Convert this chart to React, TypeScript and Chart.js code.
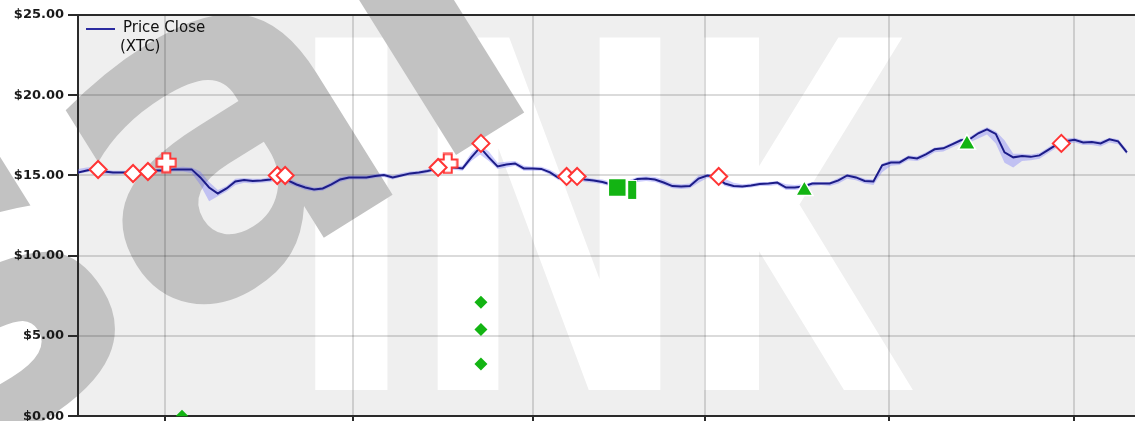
import React, { useEffect, useRef } from 'react';
import { Chart, registerables } from 'chart.js';

Chart.register(...registerables);

// ---- data ----
const closePrices = [
  15.19, 15.31, 15.44, 15.25, 15.19, 15.19, 15.19, 15.22, 15.25, 15.31,
  15.31, 15.38, 15.38, 15.38, 14.88, 14.25, 13.88, 14.19, 14.63, 14.72,
  14.66, 14.69, 14.75, 14.94, 14.69, 14.44, 14.25, 14.13, 14.19, 14.44,
  14.75, 14.88, 14.88, 14.88, 14.97, 15.03, 14.88, 15.0, 15.13, 15.19,
  15.28, 15.41, 15.5, 15.5, 15.44, 16.13, 16.75, 16.13, 15.56, 15.69,
  15.75, 15.44, 15.44, 15.41, 15.19, 14.84, 14.88, 14.88, 14.75, 14.69,
  14.59, 14.44, 14.4, 14.53, 14.78, 14.81, 14.75, 14.56, 14.34, 14.31,
  14.34, 14.81, 15.0, 14.94, 14.5, 14.34, 14.31, 14.38, 14.47, 14.5,
  14.56, 14.25, 14.25, 14.31, 14.5, 14.5, 14.5, 14.69, 15.0, 14.88,
  14.66, 14.63, 15.63, 15.81, 15.81, 16.13, 16.06, 16.31, 16.63, 16.69,
  16.94, 17.19, 17.25, 17.63, 17.88, 17.59, 16.44, 16.13, 16.22, 16.16,
  16.25, 16.59, 16.94, 17.13, 17.22, 17.06, 17.09, 17.0, 17.25, 17.13,
  16.44,
];
const bandHigh = [
  15.4, 15.5, 15.55, 15.4, 15.3, 15.3, 15.3, 15.35, 15.35, 15.4,
  15.45, 15.5, 15.55, 15.5, 15.25, 14.6, 14.1, 14.35, 14.8, 14.85,
  14.8, 14.8, 14.9, 15.05, 14.85, 14.6, 14.4, 14.25, 14.3, 14.6,
  14.9, 15.0, 15.0, 15.0, 15.1, 15.15, 15.0, 15.15, 15.25, 15.3,
  15.4, 15.55, 15.65, 15.6, 15.6, 16.4, 16.9, 16.5, 15.8, 15.85,
  15.9, 15.6, 15.55, 15.55, 15.35, 15.05, 15.0, 15.0, 14.9, 14.8,
  14.75, 14.6, 14.55, 14.7, 14.9, 14.95, 14.9, 14.75, 14.5, 14.45,
  14.5, 15.0, 15.1, 15.05, 14.8, 14.55, 14.45, 14.5, 14.6, 14.6,
  14.65, 14.45, 14.4, 14.45, 14.6, 14.6, 14.6, 14.85, 15.1, 15.0,
  14.8, 14.75, 15.75, 15.95, 15.95, 16.25, 16.2, 16.45, 16.75, 16.8,
  17.05, 17.3, 17.4, 17.75, 18.0, 17.75, 17.2, 16.35, 16.35, 16.3,
  16.4, 16.75, 17.1, 17.3, 17.35, 17.2, 17.2, 17.15, 17.35, 17.25,
  16.6,
];
const bandLow = [
  15.1, 15.2, 15.3, 15.1, 15.05, 15.1, 15.1, 15.1, 15.15, 15.2,
  15.2, 15.25, 15.25, 15.15, 14.4, 13.4, 13.7, 14.0, 14.4, 14.55,
  14.5, 14.55, 14.6, 14.75, 14.5, 14.3, 14.1, 14.0, 14.05, 14.3,
  14.6, 14.75, 14.75, 14.75, 14.85, 14.9, 14.75, 14.9, 15.0, 15.05,
  15.15, 15.3, 15.35, 15.35, 15.3, 15.9, 16.3, 15.9, 15.4, 15.5,
  15.6, 15.3, 15.3, 15.3, 15.05, 14.7, 14.75, 14.75, 14.6, 14.55,
  14.45, 14.3, 14.25, 14.4, 14.6, 14.65, 14.6, 14.4, 14.2, 14.15,
  14.2, 14.55, 14.85, 14.75, 14.35, 14.2, 14.2, 14.25, 14.35, 14.35,
  14.4, 14.1, 14.1, 14.15, 14.35, 14.4, 14.35, 14.5, 14.8, 14.7,
  14.5, 14.4, 15.2, 15.6, 15.65, 15.95, 15.9, 16.1, 16.45, 16.5,
  16.75, 17.0, 17.05, 17.3, 17.55, 17.0, 15.8, 15.5, 15.9, 15.95,
  16.05, 16.4, 16.75, 16.95, 17.05, 16.9, 16.9, 16.8, 17.05, 16.95,
  16.3,
];

// month boundaries (trading-day index) used for vertical grid lines
const monthStarts = [10, 31.5, 52, 71.75, 92.75, 114];
const yTickValues = [0, 5, 10, 15, 20, 25];

// signal markers (day index, price)
const sellDiamondDays = [2.3, 6.3, 8, 22.8, 23.7, 41.2, 46.1, 55.9, 57.1, 73.3, 112.5];
const sellDiamondPrices = [15.375, 15.125, 15.25, 15.0, 15.0, 15.5, 17.0, 14.94, 14.94, 14.94, 17.0];
const plusDays = [10.1, 42.3];
const plusPrices = [15.8, 15.75];
const squareDays = [61.7];
const squarePrices = [14.25];
const barDays = [63.4];
const barPrices = [14.1];
const triangleDays = [83.1, 101.7];
const trianglePrices = [14.06, 16.94];
const greenDiamondDays = [46.1, 46.1, 46.1, 11.9];
const greenDiamondPrices = [7.1, 5.4, 3.25, 0];

const RED = '#ff3535';
const GREEN = '#13b413';

function makePlusImage(): HTMLCanvasElement {
  const c = document.createElement('canvas');
  c.width = 22; c.height = 22;
  const g = c.getContext('2d')!;
  const cx = 11, cy = 11, e = 9.5, a = 4;
  g.beginPath();
  g.moveTo(cx - a, cy - e); g.lineTo(cx + a, cy - e); g.lineTo(cx + a, cy - a);
  g.lineTo(cx + e, cy - a); g.lineTo(cx + e, cy + a); g.lineTo(cx + a, cy + a);
  g.lineTo(cx + a, cy + e); g.lineTo(cx - a, cy + e); g.lineTo(cx - a, cy + a);
  g.lineTo(cx - e, cy + a); g.lineTo(cx - e, cy - a); g.lineTo(cx - a, cy - a);
  g.closePath();
  g.fillStyle = '#fff'; g.fill();
  g.lineWidth = 2; g.strokeStyle = RED; g.stroke();
  return c;
}

function makeBarImage(): HTMLCanvasElement {
  const c = document.createElement('canvas');
  c.width = 10; c.height = 20;
  const g = c.getContext('2d')!;
  g.fillStyle = '#fff'; g.fillRect(0, 0, 10, 20);
  g.fillStyle = GREEN; g.fillRect(1, 1, 8, 18);
  return c;
}

const zip = (xs: number[], ys: number[]) => xs.map((x, i) => ({ x, y: ys[i] }));

function fitGlyph(ctx: CanvasRenderingContext2D, ch: string, L: number, R: number, T: number, B: number) {
  ctx.save();
  ctx.font = 'bold 400px "DejaVu Sans"';
  ctx.textBaseline = 'alphabetic';
  ctx.textAlign = 'left';
  const m = ctx.measureText(ch);
  const gw = m.actualBoundingBoxLeft + m.actualBoundingBoxRight;
  const gh = m.actualBoundingBoxAscent + m.actualBoundingBoxDescent;
  ctx.translate(L, T);
  ctx.scale((R - L) / gw, (B - T) / gh);
  ctx.fillText(ch, m.actualBoundingBoxLeft, m.actualBoundingBoxAscent);
  ctx.restore();
}

const backgroundPlugin = {
  id: 'bgWatermark',
  beforeDraw(chart: any) {
    const { ctx, chartArea: a } = chart;
    ctx.save();
    ctx.fillStyle = '#ffffff';
    ctx.fillRect(0, 0, chart.width, chart.height);
    ctx.fillStyle = '#efefef';
    ctx.fillRect(a.left, a.top, a.right - a.left, a.bottom - a.top);
    // INK watermark
    ctx.save();
    ctx.beginPath();
    ctx.rect(a.left, a.top, a.right - a.left, a.bottom - a.top);
    ctx.clip();
    ctx.fillStyle = '#ffffff';
    fitGlyph(ctx, 'I', 310, 388, 35, 390);
    fitGlyph(ctx, 'N', 433, 662, 35, 390);
    fitGlyph(ctx, 'K', 700, 915, 35, 390);
    ctx.restore();
    // sal watermark
    ctx.save();
    ctx.fillStyle = '#c2c2c2';
    ctx.font = 'bold 460px "DejaVu Sans"';
    ctx.textBaseline = 'alphabetic';
    ctx.textAlign = 'left';
    const sW = ctx.measureText('s').width;
    ctx.translate(160, 340);
    ctx.rotate((-32 * Math.PI) / 180);
    ctx.fillText('sal', -sW, 0);
    ctx.restore();
    ctx.restore();
  },
  afterDraw(chart: any) {
    const { ctx, chartArea: a } = chart;
    ctx.save();
    ctx.strokeStyle = '#2a2a2a';
    ctx.lineWidth = 2;
    ctx.beginPath();
    ctx.moveTo(a.left, a.top);
    ctx.lineTo(a.right, a.top);
    ctx.stroke();
    // legend
    ctx.strokeStyle = '#2b2ba0';
    ctx.lineWidth = 2;
    ctx.beginPath();
    ctx.moveTo(a.left + 8, a.top + 14);
    ctx.lineTo(a.left + 37, a.top + 14);
    ctx.stroke();
    ctx.fillStyle = '#111';
    ctx.font = '15px "DejaVu Sans"';
    ctx.textBaseline = 'middle';
    ctx.textAlign = 'left';
    ctx.fillText('Price Close', a.left + 45, a.top + 13);
    ctx.fillText('(XTC)', a.left + 42, a.top + 32);
    ctx.restore();
  },
};

export default function App() {
  const ref = useRef<HTMLCanvasElement>(null);
  useEffect(() => {
    if (!ref.current) return;
    const plusImg = makePlusImage();
    const barImg = makeBarImage();
    const chart = new Chart(ref.current, {
      type: 'scatter',
      data: {
        datasets: [
          {
            label: 'green diamonds', data: zip(greenDiamondDays, greenDiamondPrices),
            pointStyle: 'rectRot', pointRadius: 6.5, backgroundColor: GREEN, borderColor: GREEN, borderWidth: 0, order: 0,
          } as any,
          {
            label: 'triangles', data: zip(triangleDays, trianglePrices),
            pointStyle: 'triangle', pointRadius: 10, backgroundColor: GREEN, borderColor: '#ffffff', borderWidth: 1.5, order: 0,
          },
          {
            label: 'square', data: zip(squareDays, squarePrices),
            pointStyle: 'rect', pointRadius: 12.7, backgroundColor: GREEN, borderColor: '#ffffff', borderWidth: 1.5, order: 0,
          },
          {
            label: 'bar', data: zip(barDays, barPrices),
            pointStyle: barImg, pointRadius: 10, order: 0,
          },
          {
            label: 'sell diamonds', data: zip(sellDiamondDays, sellDiamondPrices),
            pointStyle: 'rectRot', pointRadius: 8.5, backgroundColor: '#ffffff', borderColor: RED, borderWidth: 2, order: 0,
          },
          {
            label: 'plus', data: zip(plusDays, plusPrices),
            pointStyle: plusImg, pointRadius: 11, order: 1,
          },
          {
            label: 'Price Close (XTC)', data: closePrices.map((y, x) => ({ x, y })),
            showLine: true, pointRadius: 0, borderColor: '#1c1c88', borderWidth: 2, order: 2,
          },
          {
            label: 'high', data: bandHigh.map((y, x) => ({ x, y })),
            showLine: true, pointRadius: 0, borderWidth: 0, borderColor: 'rgba(0,0,0,0)',
            backgroundColor: 'rgba(110,110,250,0.35)', fill: '+1', order: 3,
          },
          {
            label: 'low', data: bandLow.map((y, x) => ({ x, y })),
            showLine: true, pointRadius: 0, borderWidth: 0, borderColor: 'rgba(0,0,0,0)', order: 3,
          },
        ],
      },
      options: {
        animation: false,
        responsive: false,
        devicePixelRatio: 1,
        layout: { autoPadding: false, padding: { top: 15, left: 0, right: 0, bottom: 0 } },
        plugins: { legend: { display: false }, tooltip: { enabled: false } },
        elements: { line: { tension: 0 } },
        scales: {
          x: {
            type: 'linear', min: 0, max: 121.5,
            afterBuildTicks: (s: any) => { s.ticks = monthStarts.map((v) => ({ value: v })); },
            afterFit: (s: any) => { s.height = 6; },
            ticks: { display: false },
            grid: { color: 'rgba(0,0,0,0.14)', lineWidth: 2, tickLength: 6, tickColor: '#2a2a2a', tickWidth: 2 },
            border: { display: true, color: '#2a2a2a', width: 2 },
          },
          y: {
            type: 'linear', min: 0, max: 25,
            afterBuildTicks: (s: any) => { s.ticks = yTickValues.map((v) => ({ value: v })); },
            afterFit: (s: any) => { s.width = 78; },
            ticks: {
              callback: (v: any) => '$' + Number(v).toFixed(2),
              color: '#1a1a1a', font: { family: 'DejaVu Sans', size: 13, weight: 'bold' }, padding: 4,
            },
            grid: { color: 'rgba(0,0,0,0.14)', lineWidth: 2, tickLength: 10, tickColor: '#2a2a2a', tickWidth: 2 },
            border: { display: true, color: '#2a2a2a', width: 2 },
          },
        },
      } as any,
      plugins: [backgroundPlugin],
    });
    return () => chart.destroy();
  }, []);
  return (
    <div style={{ position: 'fixed', left: 0, top: 0, width: 1135, height: 421, overflow: 'hidden', background: '#fff' }}>
      <canvas ref={ref} width={1140} height={428} style={{ width: 1140, height: 428, display: 'block' }} />
    </div>
  );
}
